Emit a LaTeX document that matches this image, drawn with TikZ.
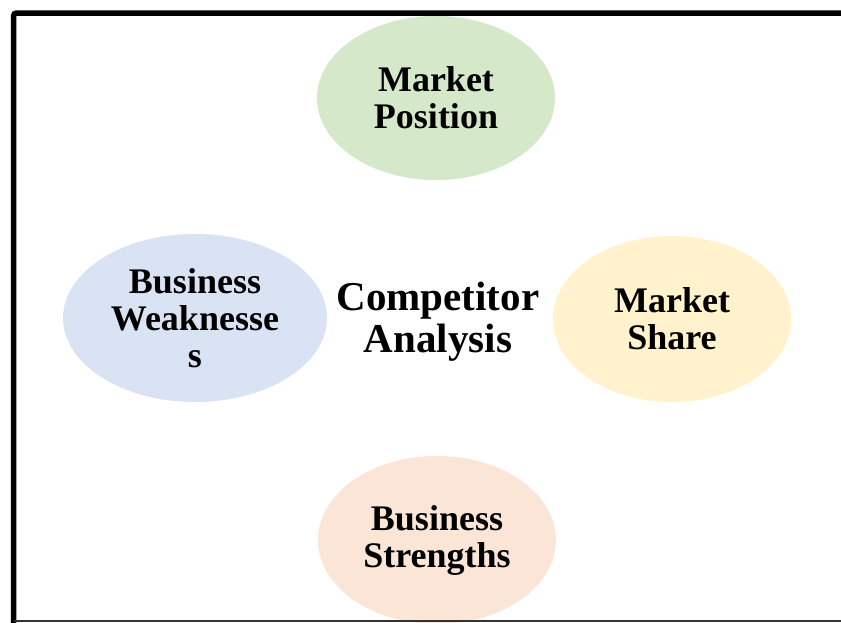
\documentclass[tikz,border=0pt]{standalone}
\usepackage{fontspec}
\setmainfont{Liberation Serif}
\usetikzlibrary{shapes.geometric}
\definecolor{cgreen}{HTML}{D5E8C9}
\definecolor{cblue}{HTML}{DAE3F3}
\definecolor{cyellow}{HTML}{FFF2CC}
\definecolor{corange}{HTML}{FBE5D6}
\tikzset{
  bubble/.style={ellipse, inner sep=0pt, draw=none, align=center,
    font=\fontsize{36}{37}\selectfont\bfseries},
  centertext/.style={inner sep=0pt, align=center,
    font=\fontsize{41}{42}\selectfont\bfseries},
  frame/.style={line width=5.5pt, black, rounded corners=3pt}
}
\begin{document}
\begin{tikzpicture}[x=1pt,y=-1pt]
\useasboundingbox (0,0) rectangle (841,622);
\begin{scope}
\clip (0,0) rectangle (841,622);
\node[bubble, fill=cgreen, minimum width=238pt, minimum height=164pt] (pos) at (436,98) {Market\\Position};
\node[bubble, fill=cblue, minimum width=264pt, minimum height=168pt] (weak) at (195,318) {Business\\Weaknesse\\s};
\node[bubble, fill=cyellow, minimum width=238pt, minimum height=166pt] (share) at (672,319) {Market\\Share};
\node[bubble, fill=corange, minimum width=238pt, minimum height=168pt] (str) at (437,540) {Business\\Strengths};
\node[centertext] (center) at (438,322) {Competitor\\Analysis};
\draw[frame] (860,13) -- (13.5,13) -- (13.5,640);
\draw[line width=1.5pt, black!80] (13.5,621) -- (860,621);
\end{scope}
\end{tikzpicture}
\end{document}
